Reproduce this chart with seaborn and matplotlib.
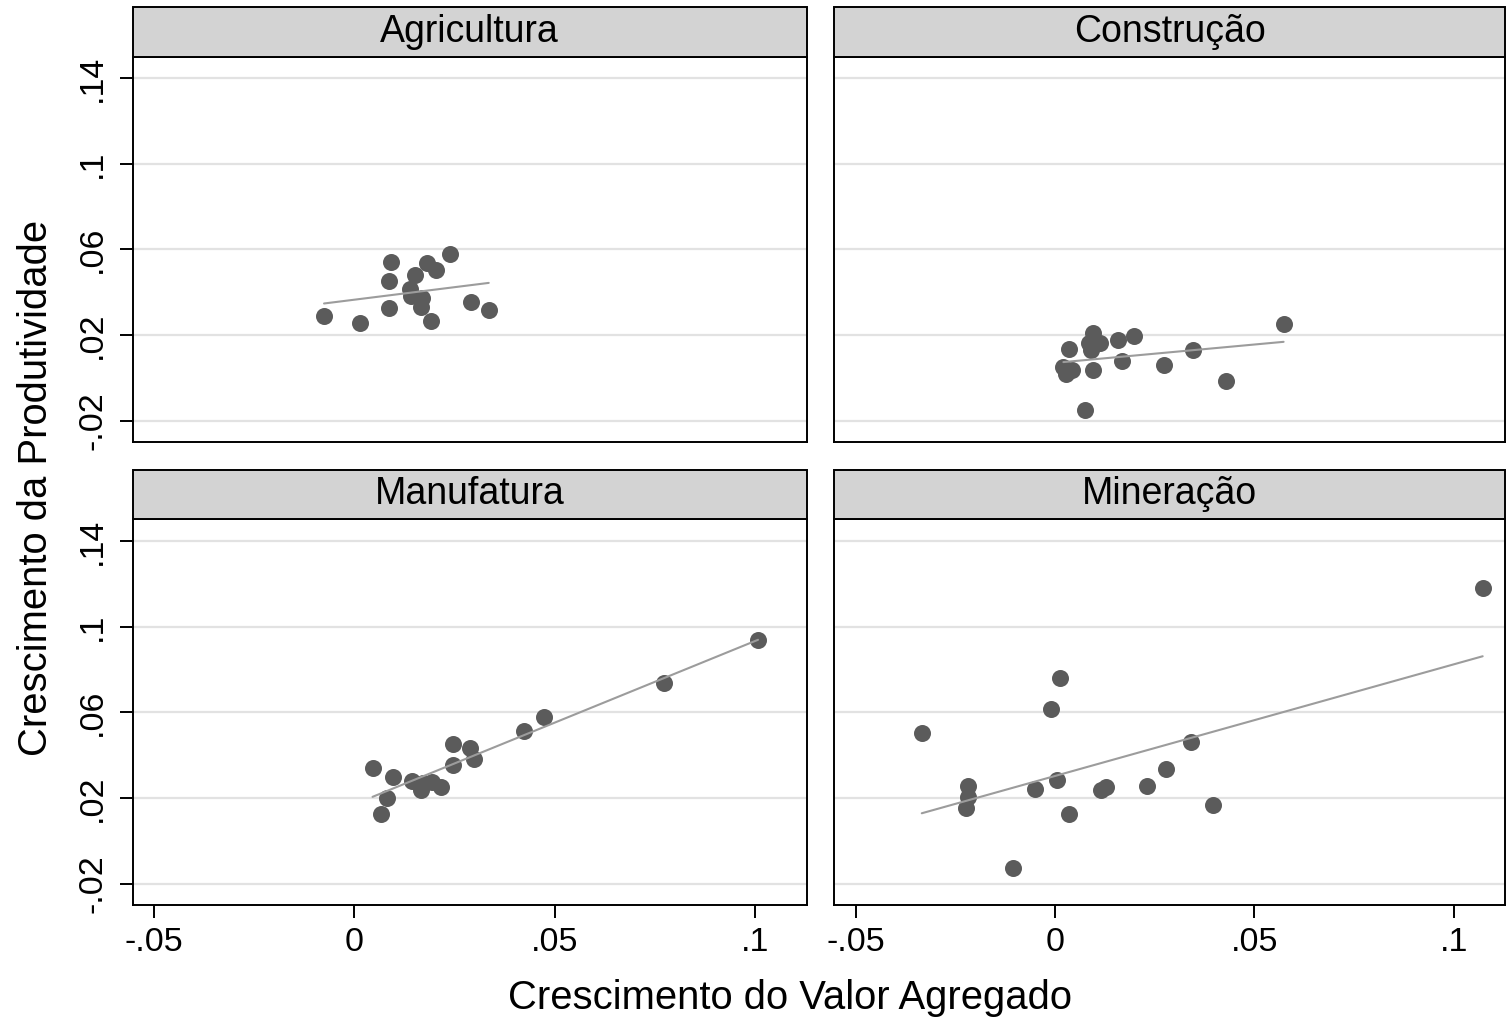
import numpy as np
import pandas as pd
import matplotlib
matplotlib.use("Agg")
import matplotlib.pyplot as plt
from matplotlib.patches import Rectangle
import seaborn as sns

# Sector panels, in reading order
sectors = ["Agricultura", "Construção", "Manufatura", "Mineração"]

# Value-added growth (x) and productivity growth (y) per sector
agri_x = [-0.0076, 0.0013, 0.0086, 0.0092, 0.0086, 0.0150, 0.0182, 0.0204, 0.0239,
          0.0138, 0.0140, 0.0169, 0.0167, 0.0190, 0.0291, 0.0335]
agri_y = [0.0289, 0.0257, 0.0327, 0.0542, 0.0452, 0.0480, 0.0539, 0.0506, 0.0578,
          0.0413, 0.0382, 0.0371, 0.0332, 0.0267, 0.0355, 0.0317]

cons_x = [0.0573, 0.0035, 0.0095, 0.0114, 0.0091, 0.0158, 0.0198, 0.0021, 0.0027,
          0.0095, 0.0169, 0.0272, 0.0345, 0.0428, 0.0075, 0.0042, 0.0085]
cons_y = [0.0251, 0.0133, 0.0211, 0.0164, 0.0130, 0.0177, 0.0195, 0.0052, 0.0018,
          0.0037, 0.0080, 0.0060, 0.0130, -0.0013, -0.0150, 0.0037, 0.0161]

manu_x = [0.1007, 0.0773, 0.0473, 0.0422, 0.0246, 0.0289, 0.0298, 0.0246, 0.0045,
          0.0096, 0.0144, 0.0171, 0.0194, 0.0167, 0.0215, 0.0080, 0.0066]
manu_y = [0.0937, 0.0735, 0.0576, 0.0514, 0.0450, 0.0435, 0.0382, 0.0354, 0.0341,
          0.0299, 0.0279, 0.0268, 0.0276, 0.0237, 0.0253, 0.0201, 0.0124]

mine_x = [0.1072, -0.0334, 0.0012, -0.0009, -0.0217, -0.0219, -0.0222, -0.0051, 0.0004,
          0.0035, -0.0106, 0.0115, 0.0127, 0.0231, 0.0279, 0.0340, 0.0396]
mine_y = [0.1178, 0.0502, 0.0758, 0.0614, 0.0256, 0.0206, 0.0155, 0.0240, 0.0284,
          0.0124, -0.0128, 0.0237, 0.0253, 0.0256, 0.0335, 0.0463, 0.0167]

# Axis ticks in Stata-style number format
x_ticks = [-0.05, 0.0, 0.05, 0.10]
x_tick_labels = ["-.05", "0", ".05", ".1"]
y_ticks = [-0.02, 0.02, 0.06, 0.10, 0.14]
y_tick_labels = ["-.02", ".02", ".06", ".1", ".14"]

x_label = "Crescimento do Valor Agregado"
y_label = "Crescimento da Produtividade"

frames = []
for name, xs, ys in zip(sectors,
                        [agri_x, cons_x, manu_x, mine_x],
                        [agri_y, cons_y, manu_y, mine_y]):
    frames.append(pd.DataFrame({"setor": name, "va": xs, "prod": ys}))
df = pd.concat(frames, ignore_index=True)

sns.set_style("white")
plt.rcParams["font.family"] = ["Liberation Sans", "DejaVu Sans"]
plt.rcParams.update({"text.color": "black", "axes.labelcolor": "black",
                     "xtick.color": "black", "ytick.color": "black"})

W, H = 1506, 1025
g = sns.FacetGrid(df, col="setor", col_wrap=2, col_order=sectors,
                  sharex=True, sharey=True, despine=False, height=4, aspect=1.7)
g.map(sns.regplot, "va", "prod", ci=None, truncate=True,
      scatter_kws=dict(s=150, color="#5b5b5b", alpha=1, linewidths=0),
      line_kws=dict(color="#9c9c9c", lw=1.5))
g.set_axis_labels("", "")
g.set_titles("")

fig = g.figure
fig.set_size_inches(W / 100, H / 100)
fig.patch.set_facecolor("white")

# panel boxes in pixels: (left, right, top, bottom)
boxes = [(132.5, 806.5, 56.7, 442.0), (834.0, 1505.0, 56.7, 442.0),
         (132.5, 806.5, 519.3, 905.0), (834.0, 1505.0, 519.3, 905.0)]
strip_h = 49.4

for i, (ax, name) in enumerate(zip(g.axes.flat, sectors)):
    l, r, t, b = boxes[i]
    ax.set_position([l / W, 1 - b / H, (r - l) / W, (b - t) / H])
    ax.set_xlim(-0.0554, 0.1128)
    ax.set_ylim(-0.0300, 0.1501)
    ax.set_xticks(x_ticks)
    ax.set_yticks(y_ticks)
    ax.grid(False)
    ax.yaxis.grid(True, color="#e2e2e2", lw=1.6)
    ax.set_axisbelow(True)
    for sp in ax.spines.values():
        sp.set_color("black")
        sp.set_linewidth(1.4)
    left_col = (i % 2 == 0)
    bottom_row = (i >= 2)
    if left_col:
        ax.set_yticklabels(y_tick_labels, rotation=90, va="center")
        ax.tick_params(axis="y", length=9.5, width=1.4, pad=8,
                       labelsize=24.5, left=True, labelleft=True,
                       color="black", labelcolor="black")
    else:
        ax.tick_params(axis="y", length=0, labelleft=False)
    if bottom_row:
        ax.set_xticklabels(x_tick_labels)
        ax.tick_params(axis="x", length=9.5, width=1.4, pad=6,
                       labelsize=24.5, bottom=True, labelbottom=True,
                       color="black", labelcolor="black")
    else:
        ax.tick_params(axis="x", length=0, labelbottom=False)

    # grey header strip with the sector name
    h = strip_h / (b - t)
    ax.add_patch(Rectangle((0, 1), 1, h, transform=ax.transAxes, clip_on=False,
                           facecolor="#d3d3d3", edgecolor="black", lw=1.4, zorder=5))
    ax.text(0.5, 1 + 15.0 / (b - t), name, transform=ax.transAxes,
            ha="center", va="baseline", fontsize=27, color="black", zorder=6)

fig.text(789.5 / W, 1 - 1009 / H, x_label, ha="center", va="baseline",
         fontsize=28.8, color="black")
fig.text(36 / W, 1 - 487.5 / H, y_label, ha="center", va="center",
         rotation=90, fontsize=28.8, color="black")

fig.savefig("out.png", dpi=100, facecolor="white")
